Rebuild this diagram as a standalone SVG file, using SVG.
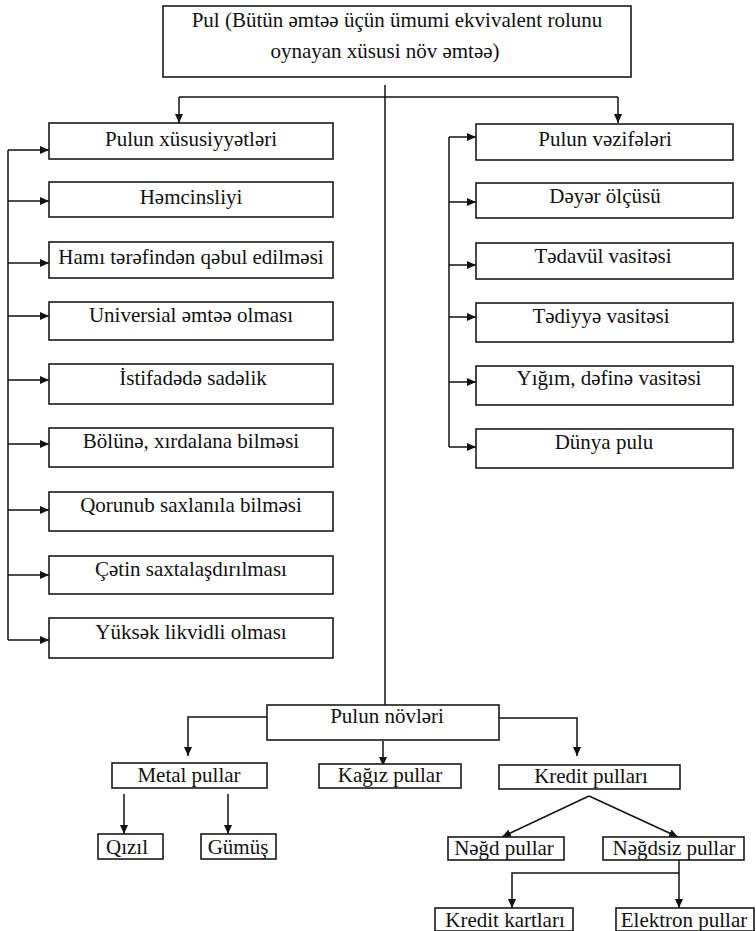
<svg xmlns="http://www.w3.org/2000/svg" width="756" height="931" viewBox="0 0 756 931">
<defs>
<marker id="ah" markerUnits="userSpaceOnUse" markerWidth="9" markerHeight="8" viewBox="0 0 9 8" refX="9" refY="4" orient="auto">
<path d="M0,0 L9,4 L0,8 z" fill="#111"/>
</marker>
<style>
.box{fill:#fff;stroke:#1a1a1a;stroke-width:1.6}
.t{font-family:"Liberation Serif","DejaVu Serif","Times New Roman",serif;font-size:21px;fill:#111;text-anchor:middle}
.c{fill:none;stroke:#111;stroke-width:1.5}
.a{fill:none;stroke:#111;stroke-width:1.5;marker-end:url(#ah)}
</style>
</defs>
<rect width="756" height="931" fill="#fff"/>

<g id="connectors">
<path class="c" d="M385,85 V705"/>
<path class="c" d="M179,97 H618"/>
<path class="a" d="M179,97 V123"/>
<path class="a" d="M618,97 V123"/>
<path class="c" d="M8,150 V640"/>
<path class="a" d="M8,150 H49"/>
<path class="a" d="M8,201 H49"/>
<path class="a" d="M8,263 H49"/>
<path class="a" d="M8,316 H49"/>
<path class="a" d="M8,380 H49"/>
<path class="a" d="M8,444 H49"/>
<path class="a" d="M8,510 H49"/>
<path class="a" d="M8,575 H49"/>
<path class="a" d="M8,640 H49"/>
<path class="c" d="M449,137 V447"/>
<path class="a" d="M449,137 H476"/>
<path class="a" d="M449,202 H476"/>
<path class="a" d="M449,265 H476"/>
<path class="a" d="M449,317 H476"/>
<path class="a" d="M449,382 H476"/>
<path class="a" d="M449,447 H476"/>
<path class="a" d="M267,717 H188 V756"/>
<path class="a" d="M383,741 V766"/>
<path class="a" d="M499,718 H577 V756"/>
<path class="a" d="M124,794 V834"/>
<path class="a" d="M228,794 V834"/>
<path class="a" d="M589,796 L502,837"/>
<path class="a" d="M589,796 L678,837"/>
<path class="a" d="M679,860 V908"/>
<path class="a" d="M679,873 H512 V908"/>
</g>

<g id="n-pul">
<rect class="box" x="163" y="6" width="468" height="71"/>
<text class="t" x="397" y="27">Pul (Bütün əmtəə üçün ümumi ekvivalent rolunu</text>
<text class="t" x="385" y="58">oynayan xüsusi növ əmtəə)</text>
</g>

<g id="n-xususiyyetler"><rect class="box" x="49" y="123" width="284" height="36"/><text class="t" x="191" y="146">Pulun xüsusiyyətləri</text></g>
<g id="n-hemcinsliyi"><rect class="box" x="49" y="182" width="284" height="35"/><text class="t" x="191" y="204">Həmcinsliyi</text></g>
<g id="n-hami"><rect class="box" x="49" y="242" width="284" height="36"/><text class="t" x="191" y="264">Hamı tərəfindən qəbul edilməsi</text></g>
<g id="n-universial"><rect class="box" x="49" y="302" width="284" height="38"/><text class="t" x="191" y="322">Universial əmtəə olması</text></g>
<g id="n-istifade"><rect class="box" x="49" y="364" width="284" height="40"/><text class="t" x="193" y="385">İstifadədə sadəlik</text></g>
<g id="n-bolune"><rect class="box" x="49" y="428" width="284" height="39"/><text class="t" x="191" y="448">Bölünə, xırdalana bilməsi</text></g>
<g id="n-qorunub"><rect class="box" x="49" y="492" width="284" height="39"/><text class="t" x="191" y="512">Qorunub saxlanıla bilməsi</text></g>
<g id="n-cetin"><rect class="box" x="49" y="556" width="284" height="38"/><text class="t" x="191" y="576">Çətin saxtalaşdırılması</text></g>
<g id="n-yuksek"><rect class="box" x="49" y="618" width="284" height="40"/><text class="t" x="191" y="639">Yüksək likvidli olması</text></g>

<g id="n-vezifeler"><rect class="box" x="476" y="124" width="257" height="36"/><text class="t" x="605" y="146">Pulun vəzifələri</text></g>
<g id="n-deyer"><rect class="box" x="476" y="183" width="257" height="35"/><text class="t" x="605" y="203">Dəyər ölçüsü</text></g>
<g id="n-tedavul"><rect class="box" x="476" y="243" width="257" height="36"/><text class="t" x="603" y="263">Tədavül vasitəsi</text></g>
<g id="n-tediyye"><rect class="box" x="476" y="303" width="257" height="39"/><text class="t" x="601" y="323">Tədiyyə vasitəsi</text></g>
<g id="n-yigim"><rect class="box" x="476" y="366" width="257" height="39"/><text class="t" x="609" y="385">Yığım, dəfinə vasitəsi</text></g>
<g id="n-dunya"><rect class="box" x="476" y="429" width="257" height="39"/><text class="t" x="604" y="449">Dünya pulu</text></g>

<g id="n-novler"><rect class="box" x="267" y="705" width="232" height="35"/><text class="t" x="387" y="723">Pulun növləri</text></g>
<g id="n-metal"><rect class="box" x="112" y="763" width="155" height="25"/><text class="t" x="189" y="782">Metal pullar</text></g>
<g id="n-kagiz"><rect class="box" x="319" y="764" width="142" height="24"/><text class="t" x="390" y="782">Kağız pullar</text></g>
<g id="n-kredit"><rect class="box" x="499" y="765" width="181" height="24"/><text class="t" x="591" y="783">Kredit pulları</text></g>
<g id="n-qizil"><rect class="box" x="98" y="834" width="65" height="25"/><text class="t" x="127" y="854">Qızıl</text></g>
<g id="n-gumus"><rect class="box" x="201" y="834" width="75" height="25"/><text class="t" x="238" y="854">Gümüş</text></g>
<g id="n-negd"><rect class="box" x="448" y="837" width="116" height="23"/><text class="t" x="504" y="855">Nəğd pullar</text></g>
<g id="n-negdsiz"><rect class="box" x="603" y="837" width="141" height="23"/><text class="t" x="674" y="855">Nəğdsiz pullar</text></g>
<g id="n-kartlar"><rect class="box" x="435" y="908" width="138" height="23"/><text class="t" x="505" y="927">Kredit kartları</text></g>
<g id="n-elektron"><rect class="box" x="616" y="908" width="138" height="23"/><text class="t" x="684" y="927">Elektron pullar</text></g>
</svg>
